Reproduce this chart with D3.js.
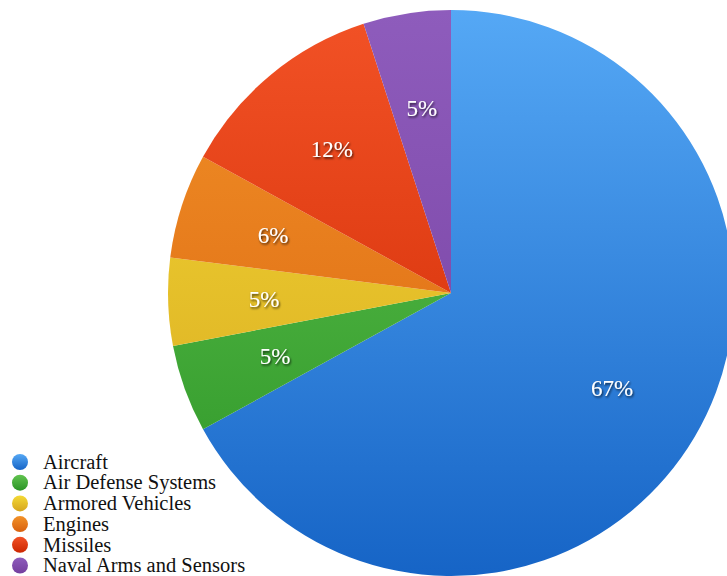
<!DOCTYPE html>
<html><head><meta charset="utf-8">
<script src="https://cdn.jsdelivr.net/npm/d3@7"></script>
<style>html,body{margin:0;padding:0;background:#fff;}svg{display:block;}
text{font-family:"Liberation Serif","Times New Roman",serif;}</style>
</head><body>
<svg id="chart" width="727" height="576"></svg>
<script>
const categories = ["Aircraft","Air Defense Systems","Armored Vehicles","Engines","Missiles","Naval Arms and Sensors"];
const values = [67,5,5,6,12,5];
const labels = ["67%","5%","5%","6%","12%","5%"];
const colorsTop = ["#55a8f5","#62c450","#f4da36","#f29228","#f25226","#8e5cbc"];
const colorsBottom = ["#1664c6","#2b9426","#d6a51e","#d8600e","#cc2600","#743e9e"];

const svg = d3.select("#chart");
const cx = 451, cy = 293, r = 283;
const defs = svg.append("defs");
categories.forEach((c,i)=>{
  const g = defs.append("linearGradient").attr("id","g"+i)
    .attr("gradientUnits","userSpaceOnUse").attr("x1",0).attr("y1",-r).attr("x2",0).attr("y2",r);
  g.append("stop").attr("offset","0%").attr("stop-color",colorsTop[i]);
  g.append("stop").attr("offset","100%").attr("stop-color",colorsBottom[i]);
  const lg = defs.append("linearGradient").attr("id","lg"+i).attr("x1",0).attr("y1",0).attr("x2",0).attr("y2",1);
  lg.append("stop").attr("offset","0%").attr("stop-color",colorsTop[i]);
  lg.append("stop").attr("offset","100%").attr("stop-color",colorsBottom[i]);
});
const f = defs.append("filter").attr("id","sh").attr("x","-20%").attr("y","-20%").attr("width","140%").attr("height","140%");
f.append("feDropShadow").attr("dx",1).attr("dy",1.5).attr("stdDeviation",1).attr("flood-color","#000").attr("flood-opacity",0.75);

const pie = d3.pie().sort(null).value(d=>d)(values);
const arc = d3.arc().innerRadius(0).outerRadius(r);
const labelArc = d3.arc().innerRadius(187).outerRadius(187);
const g = svg.append("g").attr("transform",`translate(${cx},${cy})`);
g.selectAll("path").data(pie).join("path")
  .attr("d",arc).attr("fill",(d,i)=>`url(#g${i})`);
g.selectAll("text").data(pie).join("text")
  .attr("transform",d=>`translate(${labelArc.centroid(d)})`)
  .attr("text-anchor","middle").attr("dy","0.35em")
  .attr("font-size",23)
  .attr("fill","#fff").attr("filter","url(#sh)")
  .text((d,i)=>labels[i]);

const leg = svg.append("g").attr("transform","translate(20,462)");
const row = leg.selectAll("g").data(categories).join("g")
  .attr("transform",(d,i)=>`translate(0,${i*20.7})`);
row.append("circle").attr("r",8).attr("fill",(d,i)=>`url(#lg${i})`);
row.append("text").attr("x",23).attr("dy","0.33em")
  .attr("font-size",20.5).attr("fill","#111")
  .text(d=>d);
</script>
</body></html>
